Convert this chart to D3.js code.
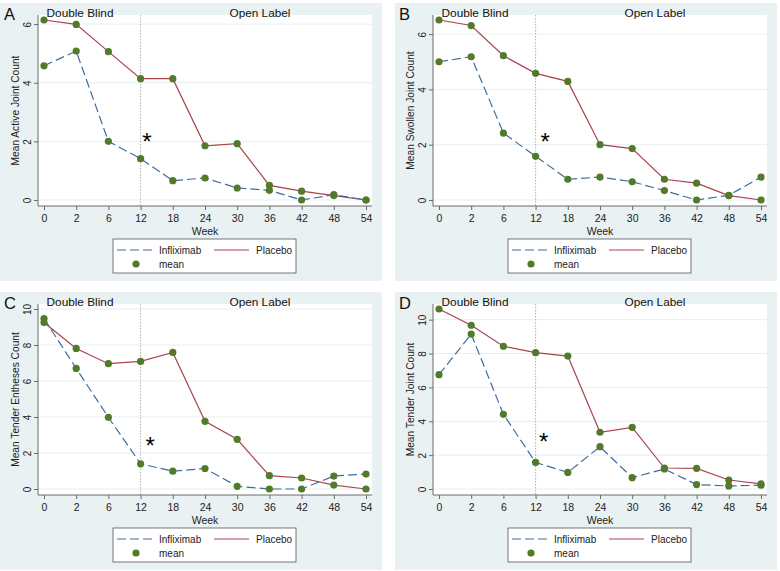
<!DOCTYPE html>
<html>
<head>
<meta charset="utf-8">
<script src="https://cdn.jsdelivr.net/npm/d3@7"></script>
<style>
  body { margin: 0; background: #fff; }
  svg { display: block; font-family: "Liberation Sans", Arial, sans-serif; }
</style>
</head>
<body>
<svg id="chart" width="780" height="571"></svg>
<script>
// Week categories (equally spaced on the x axis)
const weeks = [0, 2, 6, 12, 18, 24, 30, 36, 42, 48, 54];

// A: active joint count
const activeInflix  = [4.58, 5.08, 2.0, 1.41, 0.66, 0.75, 0.41, 0.33, 0.0, 0.18, 0.0];
const activePlacebo = [6.14, 5.99, 5.06, 4.14, 4.14, 1.85, 1.92, 0.50, 0.30, 0.15, 0.0];
// B: swollen joint count
const swollenInflix  = [5.0, 5.18, 2.42, 1.58, 0.75, 0.83, 0.66, 0.34, 0.0, 0.17, 0.83];
const swollenPlacebo = [6.51, 6.31, 5.22, 4.58, 4.29, 2.0, 1.86, 0.75, 0.61, 0.16, 0.0];
// C: tender entheses count
const enthInflix  = [9.47, 6.70, 3.98, 1.40, 0.99, 1.14, 0.15, 0.0, 0.0, 0.72, 0.83];
const enthPlacebo = [9.25, 7.81, 6.96, 7.09, 7.59, 3.76, 2.76, 0.74, 0.61, 0.22, 0.0];
// D: tender joint count
const tenderInflix  = [6.75, 9.15, 4.41, 1.57, 0.98, 2.5, 0.67, 1.18, 0.26, 0.18, 0.22];
const tenderPlacebo = [10.63, 9.67, 8.43, 8.05, 7.85, 3.35, 3.64, 1.24, 1.22, 0.53, 0.30];

const ticksSmall = [0, 2, 4, 6];
const ticksLarge = [0, 2, 4, 6, 8, 10];

// asterisk annotations: [week index, value]
const starA = [3.2, 2.1];
const starB = [3.3, 2.25];
const starC = [3.3, 2.6];
const starD = [3.25, 3.0];

const COLORS = {
  bg: '#eaf1f3',
  grid: '#e6eff1',
  inflix: '#3f6d9c',
  placebo: '#a9444c',
  dot: '#517a2b',
  axis: '#6b6b6b'
};

const panels = [
  { letter: 'A', title: 'Mean Active Joint Count', inflix: activeInflix, placebo: activePlacebo, ticks: ticksSmall, star: starA, x0: 0, y0: 3 },
  { letter: 'B', title: 'Mean Swollen Joint Count', inflix: swollenInflix, placebo: swollenPlacebo, ticks: ticksSmall, star: starB, x0: 395, y0: 3 },
  { letter: 'C', title: 'Mean Tender Entheses Count', inflix: enthInflix, placebo: enthPlacebo, ticks: ticksLarge, star: starC, x0: 0, y0: 292 },
  { letter: 'D', title: 'Mean Tender Joint Count', inflix: tenderInflix, placebo: tenderPlacebo, ticks: ticksLarge, star: starD, x0: 395, y0: 292 }
];

const W = 382, H = 278;
const plotLeft = 38, plotRight = 372, plotTop = 12, axisY = 203;
const svg = d3.select('#chart');

panels.forEach(drawPanel);

function drawPanel(p) {
  const g = svg.append('g').attr('transform', 'translate(' + p.x0 + ',' + p.y0 + ')');

  // panel background and plot region
  g.append('rect').attr('width', W).attr('height', H).attr('fill', COLORS.bg);
  g.append('rect')
    .attr('x', plotLeft).attr('y', plotTop)
    .attr('width', plotRight - plotLeft).attr('height', axisY - plotTop)
    .attr('fill', '#fff');

  const x = d3.scaleLinear().domain([0, weeks.length - 1]).range([44, 366]);
  const yMax = Math.max(d3.max(p.inflix), d3.max(p.placebo), d3.max(p.ticks));
  const y = d3.scaleLinear().domain([0, yMax]).range([197, 17]);

  // gridlines
  g.append('g').selectAll('line')
    .data(p.ticks)
    .join('line')
    .attr('x1', plotLeft).attr('x2', plotRight)
    .attr('y1', d => y(d)).attr('y2', d => y(d))
    .attr('stroke', COLORS.grid).attr('stroke-width', 1);

  // reference line at week 12
  g.append('line')
    .attr('x1', x(3)).attr('x2', x(3))
    .attr('y1', plotTop).attr('y2', axisY)
    .attr('stroke', '#9a9a9a').attr('stroke-width', 0.8)
    .attr('stroke-dasharray', '1.5,1.5');

  // axes
  const xAxis = d3.axisBottom(x)
    .tickValues(d3.range(weeks.length))
    .tickFormat(i => weeks[i])
    .tickSize(4).tickSizeOuter(0);
  const xg = g.append('g').attr('transform', 'translate(0,' + axisY + ')').call(xAxis);
  xg.select('.domain').attr('d', 'M' + plotLeft + ',0H' + plotRight);
  xg.selectAll('text').attr('font-size', 10.5).attr('fill', '#222').attr('dy', '0.9em');

  const yAxis = d3.axisLeft(y).tickValues(p.ticks).tickFormat(d3.format('d'))
    .tickSize(4).tickSizeOuter(0);
  const yg = g.append('g').attr('transform', 'translate(' + plotLeft + ',0)').call(yAxis);
  yg.select('.domain').attr('d', 'M0,' + plotTop + 'V' + axisY);
  yg.selectAll('text')
    .attr('font-size', 10).attr('fill', '#222')
    .attr('x', 0).attr('dy', 0)
    .attr('text-anchor', 'middle')
    .attr('transform', 'translate(-7,0) rotate(-90)');
  [xg, yg].forEach(a => {
    a.selectAll('.domain').attr('stroke', COLORS.axis);
    a.selectAll('.tick line').attr('stroke', COLORS.axis);
    a.attr('font-family', null);
  });

  // axis titles
  g.append('text')
    .attr('x', (plotLeft + plotRight) / 2).attr('y', 232)
    .attr('text-anchor', 'middle').attr('font-size', 10.5).attr('fill', '#222')
    .text('Week');
  g.append('text')
    .attr('transform', 'translate(19,' + ((plotTop + axisY) / 2) + ') rotate(-90)')
    .attr('text-anchor', 'middle').attr('font-size', 10.2).attr('fill', '#222')
    .text(p.title);

  // lines
  const line = d3.line().x((d, i) => x(i)).y(d => y(d));
  g.append('path').datum(p.placebo)
    .attr('d', line).attr('fill', 'none')
    .attr('stroke', COLORS.placebo).attr('stroke-width', 1.2);
  g.append('path').datum(p.inflix)
    .attr('d', line).attr('fill', 'none')
    .attr('stroke', COLORS.inflix).attr('stroke-width', 1.2)
    .attr('stroke-dasharray', '9,4');

  // mean markers
  g.append('g').selectAll('circle')
    .data(p.inflix.concat(p.placebo))
    .join('circle')
    .attr('cx', (d, i) => x(i % weeks.length))
    .attr('cy', d => y(d))
    .attr('r', 3.6)
    .attr('fill', COLORS.dot);

  // annotations
  g.append('text')
    .attr('x', x(p.star[0])).attr('y', y(p.star[1]) + 12)
    .attr('text-anchor', 'middle').attr('font-size', 24).attr('fill', '#000')
    .text('*');
  g.append('text').attr('x', 4).attr('y', 17)
    .attr('font-size', 16.5).attr('fill', '#111').text(p.letter);
  g.append('text').attr('x', 80).attr('y', 13.5)
    .attr('text-anchor', 'middle').attr('font-size', 11.8).attr('fill', '#111')
    .text('Double Blind');
  g.append('text').attr('x', 260).attr('y', 13.5)
    .attr('text-anchor', 'middle').attr('font-size', 11.8).attr('fill', '#111')
    .text('Open Label');

  // legend
  const lg = g.append('g').attr('transform', 'translate(113,236)');
  lg.append('rect').attr('width', 183).attr('height', 34)
    .attr('fill', '#fff').attr('stroke', '#555').attr('stroke-width', 0.8);
  lg.append('line').attr('x1', 4).attr('x2', 40).attr('y1', 11).attr('y2', 11)
    .attr('stroke', COLORS.inflix).attr('stroke-width', 1.2).attr('stroke-dasharray', '9,4');
  lg.append('text').attr('x', 46).attr('y', 14.5).attr('font-size', 10).attr('fill', '#222').text('Infliximab');
  lg.append('line').attr('x1', 101).attr('x2', 136).attr('y1', 11).attr('y2', 11)
    .attr('stroke', COLORS.placebo).attr('stroke-width', 1.2);
  lg.append('text').attr('x', 143).attr('y', 14.5).attr('font-size', 10).attr('fill', '#222').text('Placebo');
  lg.append('circle').attr('cx', 23).attr('cy', 25).attr('r', 3.6).attr('fill', COLORS.dot);
  lg.append('text').attr('x', 46).attr('y', 28.5).attr('font-size', 10).attr('fill', '#222').text('mean');
}
</script>
</body>
</html>
